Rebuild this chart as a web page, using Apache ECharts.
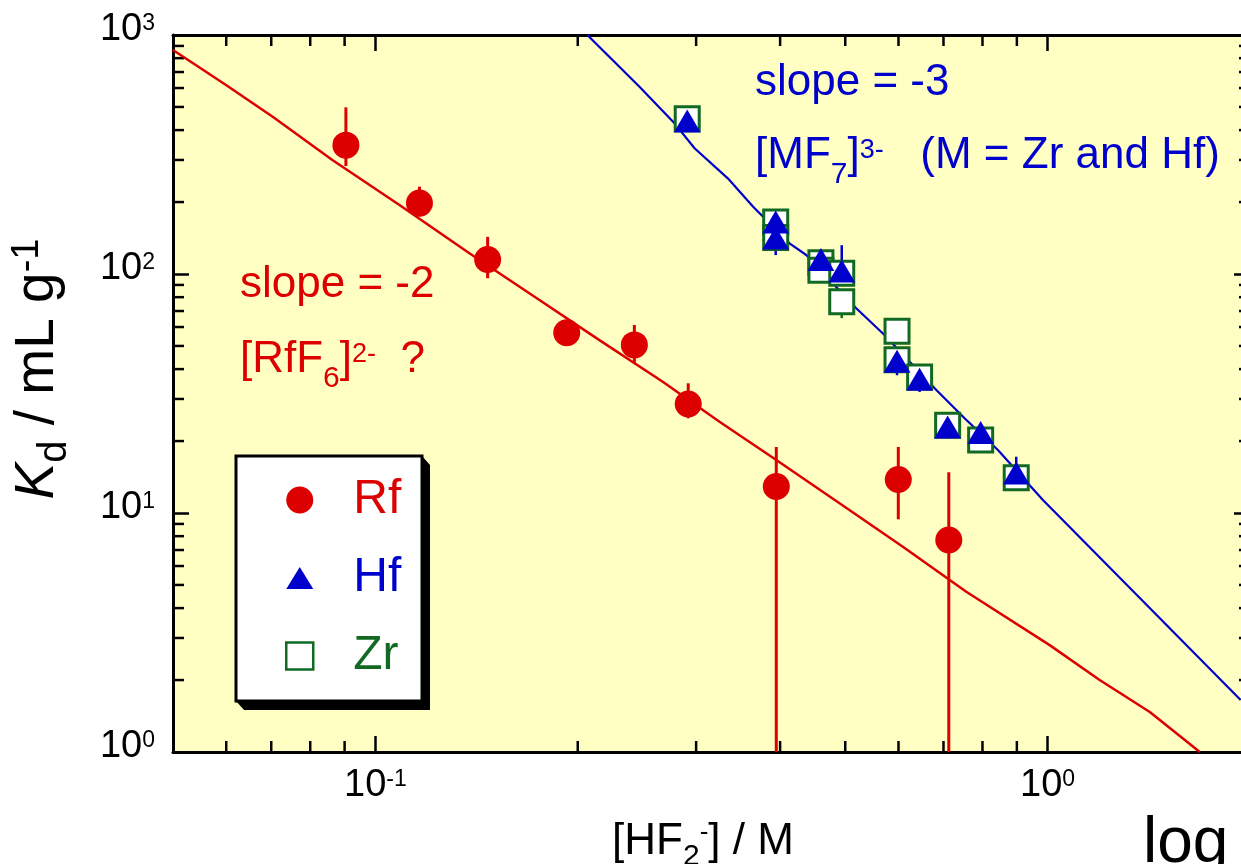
<!DOCTYPE html>
<html><head><meta charset="utf-8">
<script src="https://cdn.jsdelivr.net/npm/echarts@6/dist/echarts.min.js"></script>
<style>html,body{margin:0;padding:0;background:#fff;overflow:hidden;width:1241px;height:864px}#c{width:1262px;height:864px}</style>
</head><body><div id="c"></div>
<script>
// ---------------- data ----------------
const rfX    = [0.0904, 0.1163, 0.1469, 0.1926, 0.2428, 0.2920, 0.3948, 0.5996, 0.7128];
const rfY    = [346, 198, 115, 56.8, 50.5, 28.6, 12.9, 13.8, 7.71];
const rfHi   = [498, 232, 143, 57, 61.2, 34.9, 18.9, 18.9, 14.8];
const rfLo   = [283, 174, 96, 56.5, 42.3, 24.9, 0.3, 9.41, 0.3];

const hfX    = [0.291, 0.394, 0.394, 0.460, 0.494, 0.597, 0.645, 0.710, 0.795, 0.898];
const hfY    = [437, 165, 141.5, 115, 103, 43.1, 36.3, 22.9, 21.7, 14.7];
const hfHi   = [437, 165, 141.5, 115, 132, 43.1, 36.3, 22.9, 21.7, 17.2];
const hfLo   = [437, 165, 120, 115, 103, 37.7, 32.1, 22.9, 21.7, 14.7];

const zrX    = [0.291, 0.394, 0.394, 0.460, 0.460, 0.494, 0.494, 0.597, 0.597, 0.645, 0.710, 0.795, 0.898];
const zrY    = [446, 165, 142, 111.5, 103.6, 100.7, 76.6, 57.6, 43.8, 37.1, 23.3, 20.2, 14.05];
const zrHi   = [446, 165, 142, 111.5, 103.6, 100.7, 76.6, 57.6, 43.8, 37.1, 23.3, 20.2, 14.05];
const zrLo   = [446, 165, 142, 111.5, 103.6, 100.7, 65.4, 57.6, 43.8, 37.1, 23.3, 20.2, 14.05];

// fitted lines
const rfFitX = [0.05, 0.05995, 0.07035, 0.0863, 0.1086, 0.138, 0.1754, 0.2154, 0.2676, 0.325, 0.3948, 0.4903, 0.609, 0.7568, 1.007, 1.195, 1.419, 1.684];
const rfFitY = [865, 618, 455, 300, 194.4, 122.1, 77.85, 52.9, 35.4, 24.1, 16.67, 10.98, 7.23, 4.686, 2.80, 2.0, 1.47, 1.0];
const mfFitX = [0.2067, 0.2471, 0.2786, 0.2984, 0.3344, 0.3647, 0.4131, 0.4375, 0.5191, 0.5719, 0.683, 0.7524, 0.8434, 0.984, 1.937];
const mfFitY = [1000, 607.8, 427, 335.7, 251.4, 191.2, 134.4, 120.1, 71.9, 55.6, 32.7, 24.9, 18.35, 11.34, 1.65];

// axis
const xMin = 0.05, xMax = 2, yMin = 1, yMax = 1000;
const xMinorTicks = [0.06, 0.07, 0.08, 0.09, 0.2, 0.3, 0.4, 0.5, 0.6, 0.7, 0.8, 0.9];
const yMinorTicks = [2,3,4,5,6,7,8,9,20,30,40,50,60,70,80,90,200,300,400,500,600,700,800,900];
const legendNames = ['Rf', 'Hf', 'Zr'];

// ---------------- style ----------------
const FONT = '"Liberation Sans", Arial, Helvetica, sans-serif';
const RED = '#DD0000', BLUE = '#0000CC', GREEN = '#126A22', BG = '#FFFFC4';

const tickRich = {
  b: {fontSize: 38, fontFamily: FONT, color: '#000'},
  s: {fontSize: 23, fontFamily: FONT, color: '#000', padding: [0, 0, 12, 0]}
};
function decadeLabel(v) {
  const l = Math.log10(v);
  if (Math.abs(l - Math.round(l)) > 1e-6) return '';
  return '{b|10}{s|' + Math.round(l) + '}';
}
function zip3(xs, a, b) { return xs.map((x, i) => [x, a[i], b[i]]); }
function zip2(xs, ys) { return xs.map((x, i) => [x, ys[i]]); }

function errSeries(xs, lo, hi, color, w) {
  return {
    type: 'custom', silent: true, z: 3,
    data: zip3(xs, lo, hi), encode: {x: 0, y: [1, 2]},
    renderItem: function (params, api) {
      const cs = params.coordSys;
      const x = api.value(0);
      const p1 = api.coord([x, api.value(2)]);
      const p2 = api.coord([x, api.value(1)]);
      const top = Math.max(cs.y, p1[1]);
      const bot = Math.min(cs.y + cs.height, p2[1]);
      return {type: 'line', shape: {x1: p1[0], y1: top, x2: p1[0], y2: bot},
              style: {stroke: color, lineWidth: w}};
    }
  };
}
const minorX = {
  type: 'custom', silent: true, z: 1,
  data: xMinorTicks.map(v => [v, 10]), encode: {x: 0, y: 1},
  renderItem: function (params, api) {
    const cs = params.coordSys;
    const px = api.coord([api.value(0), 10])[0];
    const b = cs.y + cs.height, t = cs.y;
    return {type: 'group', children: [
      {type: 'line', shape: {x1: px, y1: b, x2: px, y2: b - 11}, style: {stroke: '#000', lineWidth: 2.5}},
      {type: 'line', shape: {x1: px, y1: t, x2: px, y2: t + 11}, style: {stroke: '#000', lineWidth: 2.5}}
    ]};
  }
};
const minorY = {
  type: 'custom', silent: true, z: 1,
  data: yMinorTicks.map(v => [0.1, v]), encode: {x: 0, y: 1},
  renderItem: function (params, api) {
    const cs = params.coordSys;
    const py = api.coord([0.1, api.value(1)])[1];
    const l = cs.x, r = cs.x + cs.width;
    return {type: 'group', children: [
      {type: 'line', shape: {x1: l, y1: py, x2: l + 11, y2: py}, style: {stroke: '#000', lineWidth: 2.5}},
      {type: 'line', shape: {x1: r, y1: py, x2: r - 11, y2: py}, style: {stroke: '#000', lineWidth: 2.5}}
    ]};
  }
};
const axisCommon = {
  type: 'log', logBase: 10,
  axisLine: {show: true, onZero: false, lineStyle: {color: '#000', width: 3}},
  axisTick: {show: true, inside: true, length: 16, lineStyle: {color: '#000', width: 2.5}},
  splitLine: {show: false}, minorTick: {show: false}, minorSplitLine: {show: false}
};

function richSet(color, fs, subFs, subPad, supFs, supPad) {
  return {
    n: {fontSize: fs, fontFamily: FONT, fill: color, color: color},
    i: {fontSize: fs, fontFamily: FONT, fill: color, color: color, fontStyle: 'italic'},
    sub: {fontSize: subFs, fontFamily: FONT, fill: color, color: color, padding: [subPad, 0, 0, 0]},
    sup: {fontSize: supFs, fontFamily: FONT, fill: color, color: color, padding: [0, 0, supPad, 0]}
  };
}
function txt(x, y, text, rich, align, extra) {
  return Object.assign({type: 'text', x: x, y: y, z: 100, silent: true,
    style: {text: text, rich: rich, align: align || 'left', verticalAlign: 'middle'}}, extra || {});
}

const option = {
  animation: false,
  backgroundColor: '#fff',
  grid: {left: 173, top: 35, width: 1077, height: 717, show: true, backgroundColor: BG, borderWidth: 0},
  xAxis: [
    Object.assign({}, axisCommon, {min: xMin, max: xMax, position: 'bottom',
      axisLabel: {show: true, margin: 15, showMinLabel: false, showMaxLabel: false,
                  formatter: decadeLabel, rich: tickRich}}),
    Object.assign({}, axisCommon, {min: xMin, max: xMax, position: 'top', axisLabel: {show: false}})
  ],
  yAxis: [
    Object.assign({}, axisCommon, {min: yMin, max: yMax, position: 'left',
      axisLabel: {show: true, margin: 18, formatter: decadeLabel, rich: tickRich, padding: [0, 0, 10, 0]}}),
    Object.assign({}, axisCommon, {min: yMin, max: yMax, position: 'right', axisLabel: {show: false}})
  ],
  legend: {
    orient: 'vertical', left: 236, top: 456, z: 20,
    padding: [20, 20, 21, 49],
    itemWidth: 27, itemHeight: 27, itemGap: 30,
    textStyle: {fontSize: 48, fontFamily: FONT, padding: [0, 0, 0, 35]},
    selectedMode: false,
    data: [
      {name: legendNames[0], icon: 'circle', textStyle: {color: RED}},
      {name: legendNames[1], icon: 'path://M0 22L13.5 0L27 22Z', textStyle: {color: BLUE}},
      {name: legendNames[2], icon: 'rect', textStyle: {color: GREEN},
       itemStyle: {color: '#fff', borderColor: GREEN, borderWidth: 2.5}}
    ]
  },
  series: [
    minorX, minorY,
    {type: 'line', data: zip2(rfFitX, rfFitY), symbol: 'none', showSymbol: false, silent: true, z: 2,
     lineStyle: {color: RED, width: 2.5}},
    {type: 'line', data: zip2(mfFitX, mfFitY), symbol: 'none', showSymbol: false, silent: true, z: 2,
     lineStyle: {color: BLUE, width: 2.2}},
    errSeries(rfX, rfLo, rfHi, RED, 3),
    errSeries(zrX, zrLo, zrHi, GREEN, 2.5),
    errSeries(hfX, hfLo, hfHi, BLUE, 2.5),
    {name: legendNames[2], type: 'scatter', data: zip2(zrX, zrY), symbol: 'rect', symbolSize: 24, z: 4,
     itemStyle: {color: '#fff', borderColor: GREEN, borderWidth: 3, opacity: 1}},
    {name: legendNames[1], type: 'scatter', data: zip2(hfX, hfY), symbol: 'triangle', symbolSize: [27, 23], z: 5,
     itemStyle: {color: BLUE, opacity: 1}},
    {name: legendNames[0], type: 'scatter', data: zip2(rfX, rfY), symbol: 'circle', symbolSize: 27, z: 5,
     itemStyle: {color: RED, opacity: 1}}
  ],
  graphic: [
    // legend frame with hard bevelled shadow
    {type: 'polygon', z: 10, silent: true,
     shape: {points: [[236, 701], [244, 710], [430, 710], [430, 465], [422, 456], [422, 701]]},
     style: {fill: '#000'}},
    {type: 'rect', z: 11, silent: true,
     shape: {x: 236, y: 456, width: 186, height: 245},
     style: {fill: '#fff', stroke: '#000', lineWidth: 3}},
    // annotations
    txt(755, 83, '{n|slope = -3}', richSet(BLUE, 44, 30, 38, 27, 11)),
    txt(755, 156, '{n|[MF}{sub|7}{n|]}{sup|3-}{n|   (M = Zr and Hf)}', richSet(BLUE, 44, 30, 38, 27, 11)),
    txt(240, 285, '{n|slope = -2}', richSet(RED, 44, 30, 38, 27, 11)),
    txt(240, 360, '{n|[RfF}{sub|6}{n|]}{sup|2-}{n|  ?}', richSet(RED, 44, 30, 38, 27, 11)),
    txt(703, 842, '{n|[HF}{sub|2}{sup|-}{n|] / M}', richSet('#000', 44, 30, 30, 26, 18), 'center'),
    txt(1143, 844, '{n|log}', richSet('#000', 64, 30, 30, 26, 18)),
    txt(38, 369, '{i|K}{sub|d}{n| / mL g}{sup|-1}', richSet('#000', 55, 40, 34, 38, 20), 'center', {rotation: Math.PI / 2})
  ]
};

const chart = echarts.init(document.getElementById('c'), null, {renderer: 'canvas'});
chart.setOption(option);
</script></body></html>
